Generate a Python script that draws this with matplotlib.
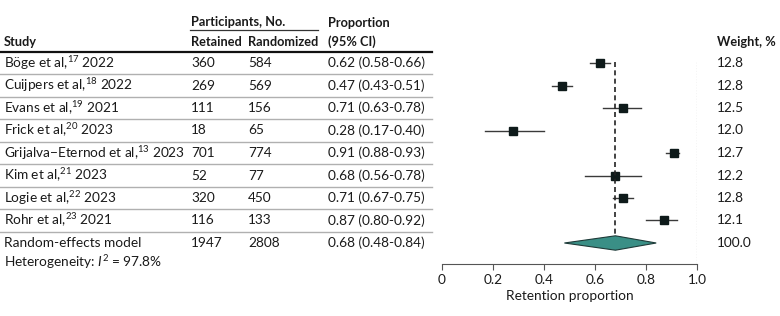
import matplotlib
matplotlib.use("Agg")
import matplotlib.pyplot as plt
from matplotlib.lines import Line2D
import matplotlib.transforms as mtransforms

plt.rcParams['font.family'] = ['Lato', 'DejaVu Sans']
plt.rcParams['mathtext.fontset'] = 'custom'
plt.rcParams['mathtext.rm'] = 'Lato'
plt.rcParams['mathtext.it'] = 'Lato:italic'

authors = ["Böge et al,", "Cuijpers et al,", "Evans et al,", "Frick et al,",
           "Grijalva\u2212Eternod et al,", "Kim et al,", "Logie et al,", "Rohr et al,"]
refs = ["17", "18", "19", "20", "13", "21", "22", "23"]
years = ["2022", "2022", "2021", "2023", "2023", "2023", "2023", "2021"]
retained = [360, 269, 111, 18, 701, 52, 320, 116]
randomized = [584, 569, 156, 65, 774, 77, 450, 133]
prop = [0.62, 0.47, 0.71, 0.28, 0.91, 0.68, 0.71, 0.87]
lo = [0.58, 0.43, 0.63, 0.17, 0.88, 0.56, 0.67, 0.80]
hi = [0.66, 0.51, 0.78, 0.40, 0.93, 0.78, 0.75, 0.92]
weights = ["12.8", "12.8", "12.5", "12.0", "12.7", "12.2", "12.8", "12.1"]

pooled = 0.68
pooled_lo = 0.48
pooled_hi = 0.84
pooled_ret = 1947
pooled_rand = 2808
i2 = "97.8%"

W, H = 780, 316
fig = plt.figure(figsize=(W / 100, H / 100), dpi=100)

def fx(px):
    return px / W

def fy(px):
    return 1 - px / H

row0, step = 63, 22.5
top_px, bot_px = 52, 264
ax = fig.add_axes([fx(442), fy(bot_px), fx(697) - fx(442), fy(top_px) - fy(bot_px)])
ax.set_xlim(0, 1)
ax.set_ylim((bot_px - row0) / step, (top_px - row0) / step)

txt = "#1a1a1a"
fs = 9.8
tr = mtransforms.blended_transform_factory(fig.transFigure, ax.transData)

n = len(authors)
for i in range(n):
    ax.plot([lo[i], hi[i]], [i, i], color="#3a3a3a", lw=1)
    ax.plot(prop[i], i, marker="s", ms=5.5, color="#0e1a1a", mec="#0e1a1a")
    fig.text(fx(4), 0, "%s$^{%s}$ %s" % (authors[i], refs[i], years[i]),
             transform=tr, fontsize=fs, color=txt, va="center").set_y(i)
    for x, s in [(191, str(retained[i])), (248, str(randomized[i])),
                 (328, "%.2f (%.2f-%.2f)" % (prop[i], lo[i], hi[i])),
                 (717, weights[i])]:
        t = fig.text(fx(x), 0, s, transform=tr, fontsize=fs, color=txt, va="center")
        t.set_y(i)
    fig.add_artist(Line2D([0, fx(432)], [i + 0.5, i + 0.5], transform=tr,
                          color="#b0b0b0", lw=1))

# pooled row
k = n
for x, s in [(4, "Random-effects model"), (191, str(pooled_ret)), (248, str(pooled_rand)),
             (328, "%.2f (%.2f-%.2f)" % (pooled, pooled_lo, pooled_hi)), (717, "100.0")]:
    t = fig.text(fx(x), 0, s, transform=tr, fontsize=fs, color=txt, va="center")
    t.set_y(k)
t = fig.text(fx(4), 0, "Heterogeneity: $I^{2}$ = " + i2, transform=tr, fontsize=fs,
             color=txt, va="center")
t.set_y(k + 0.85)
dh = 0.32
ax.fill([pooled_lo, pooled, pooled_hi, pooled], [k, k - dh, k, k + dh],
        facecolor="#3a8f86", edgecolor="#1e3a38", lw=0.8, zorder=3)

ax.plot([pooled, pooled], [-0.05, k - dh], color="#222222", lw=1.2, ls=(0, (3, 2)), zorder=2)
ax.plot([1, 1], [-0.05, ax.get_ylim()[0]], color="#555555", lw=0.8, ls=(0, (1, 1.5)))

# headers
hdr = dict(fontsize=9.2, color=txt, fontweight="bold", va="center")
fig.text(fx(4), fy(42), "Study", **hdr)
fig.text(fx(191), fy(22), "Participants, No.", **hdr)
fig.text(fx(191), fy(42), "Retained", **hdr)
fig.text(fx(248), fy(42), "Randomized", **hdr)
fig.text(fx(328), fy(23), "Proportion", **hdr)
fig.text(fx(328), fy(42), "(95% CI)", **hdr)
fig.text(fx(717), fy(42), "Weight, %", **hdr)
fig.add_artist(Line2D([fx(190), fx(318)], [fy(30), fy(30)], color="#333333", lw=0.9))
fig.add_artist(Line2D([0, fx(432)], [fy(52), fy(52)], color="#111111", lw=1.6))

for s in ["top", "left", "right"]:
    ax.spines[s].set_visible(False)
ax.spines["bottom"].set_color("#555555")
ax.set_yticks([])
ax.set_xticks([0, 0.2, 0.4, 0.6, 0.8, 1.0])
ax.set_xticklabels(["0", "0.2", "0.4", "0.6", "0.8", "1.0"])
ax.tick_params(axis="x", colors="#555555", labelcolor=txt, labelsize=fs, length=4, pad=3)
ax.set_xlabel("Retention proportion", fontsize=fs, color=txt, labelpad=3)
ax.patch.set_visible(False)

fig.savefig("out.png", dpi=100)
